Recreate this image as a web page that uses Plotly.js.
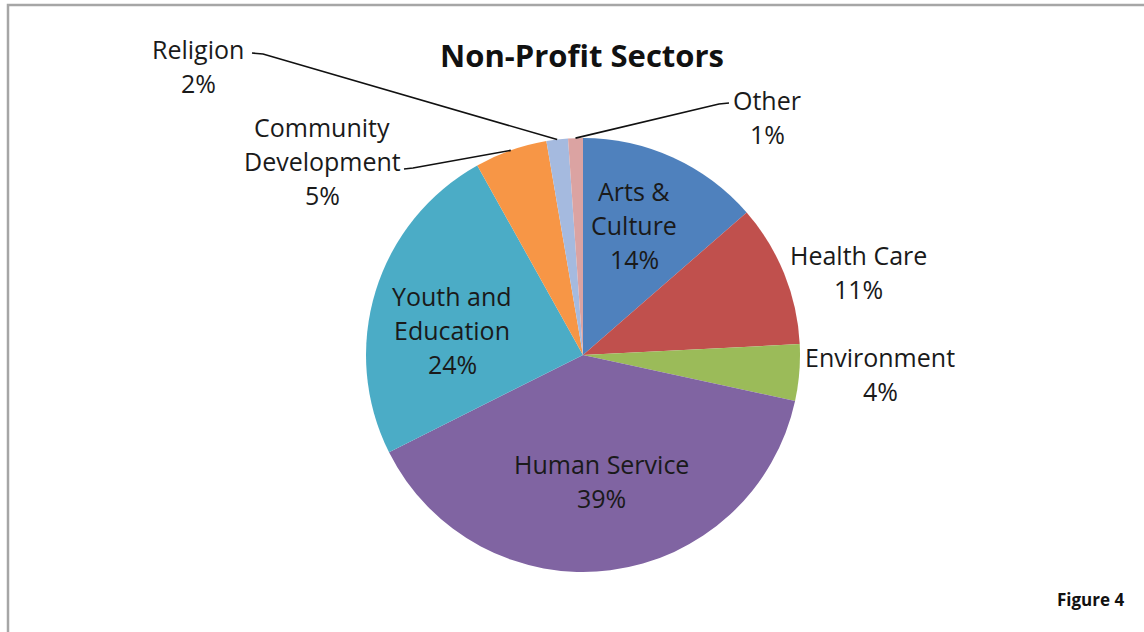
<!DOCTYPE html>
<html>
<head>
<meta charset="utf-8">
<script src="https://cdn.plot.ly/plotly-3.0.1.min.js"></script>
<style>
  html, body { margin: 0; padding: 0; background: #fff; }
  #chart { width: 1144px; height: 632px; }
</style>
</head>
<body>
<div id="chart"></div>
<script>
// ---- data ----
const categories = ["Arts & Culture", "Health Care", "Environment", "Human Service",
                    "Youth and Education", "Community Development", "Religion", "Other"];
const displayLines = [["Arts &", "Culture"], ["Health Care"], ["Environment"], ["Human Service"],
                      ["Youth and", "Education"], ["Community", "Development"], ["Religion"], ["Other"]];
const shares = [13.6, 10.6, 4.2, 39.2, 24.3, 5.4, 1.6, 1.1];
const sliceColors = ["#4F81BD", "#C0504D", "#9BBB59", "#8064A2",
                     "#4BACC6", "#F79646", "#A5BADF", "#DBA3A2"];
const chartTitle = "Non-Profit Sectors";
const figureLabel = "Figure 4";

// ---- layout constants (pixels) ----
const W = 1144, H = 632;
const CX = 583, CY = 355, R = 217;
const LINE_GAP = 34;
// label block centres (pixels)
const labelPos = [[634, 225], [858, 272], [880, 374], [601, 481],
                  [452, 330], [322, 161], [198, 66], [767, 117]];
// leader lines: [label-side end, elbow] for slices that have them (pixels)
const leaders = {
  5: [[404, 169], [413, 168]],
  6: [[252, 53], [263, 54]],
  7: [[729, 103], [719, 104]]
};

const px = x => x / W;
const py = y => 1 - y / H;

const total = shares.reduce((a, b) => a + b, 0);
const labelLines = displayLines.map((ls, i) => ls.concat([Math.round(shares[i] / total * 100) + "%"]));

// mid angles (clockwise from 12 o'clock)
let cum = 0;
const midAngles = shares.map(v => {
  const m = (cum + v / 2) / total * 2 * Math.PI;
  cum += v;
  return m;
});

const annotations = [];
labelLines.forEach((lines, i) => {
  const n = lines.length;
  lines.forEach((t, j) => {
    annotations.push({
      text: t,
      x: px(labelPos[i][0]), y: py(labelPos[i][1] + (j - (n - 1) / 2) * LINE_GAP),
      xref: "paper", yref: "paper",
      xanchor: "center", yanchor: "middle",
      showarrow: false, align: "center",
      font: { family: "Open Sans", size: 25, color: "#1a1a1a" }
    });
  });
});
annotations.push({
  text: "<b>" + figureLabel + "</b>",
  x: px(1090), y: py(599), xref: "paper", yref: "paper",
  xanchor: "center", yanchor: "middle", showarrow: false,
  font: { family: "Open Sans", size: 17, color: "#111" }
});

const shapes = [];
Object.keys(leaders).forEach(k => {
  const i = +k;
  const a = midAngles[i];
  const ex = CX + R * Math.sin(a), ey = CY - R * Math.cos(a);
  const [p0, p1] = leaders[k];
  shapes.push({
    type: "path", xref: "paper", yref: "paper",
    path: `M ${px(p0[0])} ${py(p0[1])} L ${px(p1[0])} ${py(p1[1])} L ${px(ex)} ${py(ey)}`,
    line: { color: "#111", width: 1.6 }
  });
});
// frame (top and left edges)
shapes.push({
  type: "path", xref: "paper", yref: "paper",
  path: `M ${px(8)} 0 L ${px(8)} ${py(5)} L 1 ${py(5)}`,
  line: { color: "#A6A6A6", width: 2.5 }
});

const trace = {
  type: "pie",
  labels: categories,
  values: shares,
  sort: false,
  direction: "clockwise",
  rotation: 0,
  marker: { colors: sliceColors, line: { width: 0 } },
  textinfo: "none",
  hoverinfo: "label+percent",
  domain: { x: [px(CX - R), px(CX + R)], y: [py(CY + R), py(CY - R)] }
};

const layout = {
  width: W, height: H,
  margin: { l: 0, r: 0, t: 0, b: 0 },
  paper_bgcolor: "#fff",
  showlegend: false,
  title: {
    text: "<b>" + chartTitle + "</b>",
    x: px(582), xanchor: "center",
    y: py(56), yanchor: "middle",
    xref: "paper", yref: "paper",
    font: { family: "Open Sans", size: 31, color: "#111" }
  },
  annotations: annotations,
  shapes: shapes
};

Plotly.newPlot("chart", [trace], layout, { displayModeBar: false, staticPlot: true });
</script>
</body>
</html>
